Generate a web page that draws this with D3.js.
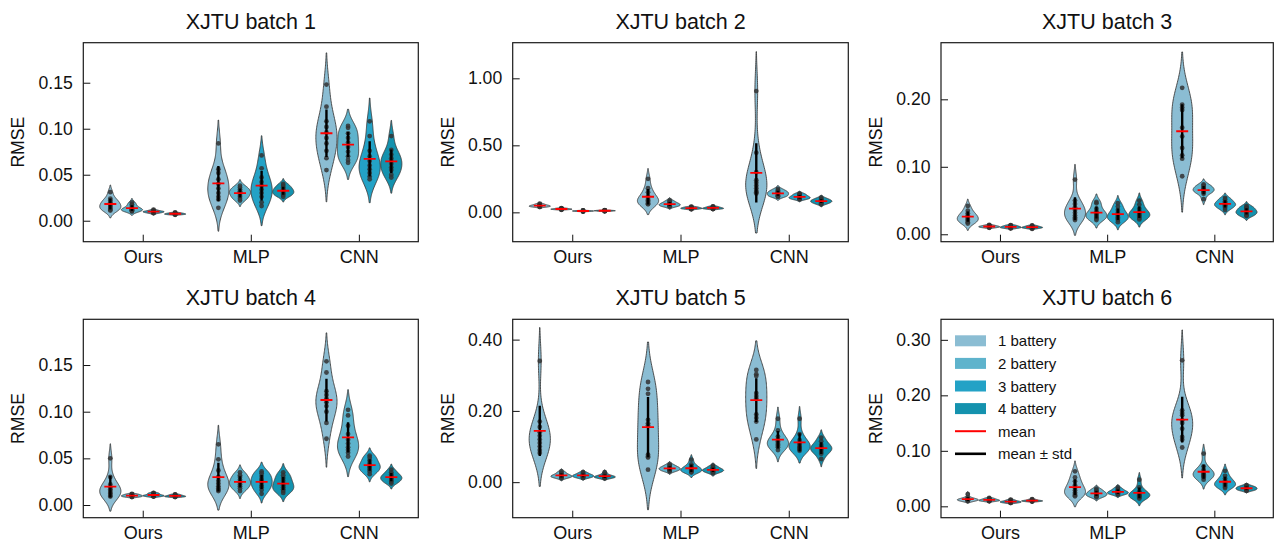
<!DOCTYPE html>
<html>
<head>
<meta charset="utf-8">
<script src="https://cdn.jsdelivr.net/npm/d3@7"></script>
<style>
  body { margin: 0; background: #fff; }
  svg { display: block; font-family: "Liberation Sans", Arial, sans-serif; }
</style>
</head>
<body>
<div id="chart"></div>
<script>
// titles, categories and tick labels
var titles = ["XJTU batch 1", "XJTU batch 2", "XJTU batch 3", "XJTU batch 4", "XJTU batch 5", "XJTU batch 6"];
var models = ["Ours", "MLP", "CNN"];
var batteryLabels = ["1 battery", "2 battery", "3 battery", "4 battery"];
var yTickValues = [
  [0, 0.05, 0.10, 0.15],
  [0, 0.50, 1.00],
  [0, 0.10, 0.20],
  [0, 0.05, 0.10, 0.15],
  [0, 0.20, 0.40],
  [0, 0.10, 0.20, 0.30]
];
var yLimits = [
  [-0.0228, 0.1935],
  [-0.219, 1.2657],
  [-0.011, 0.2839],
  [-0.0136, 0.199],
  [-0.0997, 0.457],
  [-0.0205, 0.337]
];

// RMSE of each run: [model][battery count][run]
var rmseBatch1 = [
  [[0.031, 0.024, 0.022, 0.020, 0.018, 0.016, 0.015, 0.013, 0.012, 0.011],
   [0.020, 0.018, 0.016, 0.014, 0.013, 0.012, 0.012, 0.011, 0.010, 0.011],
   [0.012, 0.011, 0.0105, 0.010, 0.0095, 0.009, 0.0085, 0.008, 0.010, 0.0095],
   [0.009, 0.0085, 0.008, 0.008, 0.0075, 0.0075, 0.007, 0.007, 0.0065, 0.0068]],
  [[0.084, 0.056, 0.052, 0.045, 0.040, 0.035, 0.030, 0.026, 0.023, 0.014],
   [0.038, 0.036, 0.034, 0.032, 0.031, 0.030, 0.028, 0.026, 0.024, 0.022],
   [0.071, 0.057, 0.047, 0.042, 0.038, 0.034, 0.030, 0.026, 0.020, 0.016],
   [0.040, 0.038, 0.036, 0.034, 0.033, 0.032, 0.030, 0.029, 0.028, 0.026]],
  [[0.148, 0.124, 0.108, 0.102, 0.096, 0.090, 0.084, 0.076, 0.068, 0.055],
   [0.103, 0.101, 0.095, 0.090, 0.085, 0.080, 0.075, 0.070, 0.066, 0.063],
   [0.108, 0.092, 0.076, 0.070, 0.065, 0.060, 0.056, 0.052, 0.048, 0.045],
   [0.092, 0.077, 0.072, 0.068, 0.065, 0.062, 0.058, 0.055, 0.050, 0.047]]
];
var rmseBatch2 = [
  [[0.065, 0.060, 0.055, 0.052, 0.050, 0.048, 0.045, 0.042, 0.040, 0.043],
   [0.032, 0.030, 0.028, 0.026, 0.025, 0.024, 0.023, 0.022, 0.021, 0.019],
   [0.014, 0.013, 0.012, 0.011, 0.010, 0.010, 0.009, 0.008, 0.007, 0.006],
   [0.016, 0.015, 0.014, 0.013, 0.012, 0.012, 0.011, 0.010, 0.009, 0.008]],
  [[0.25, 0.18, 0.15, 0.12, 0.10, 0.09, 0.08, 0.07, 0.065, 0.06],
   [0.09, 0.08, 0.072, 0.066, 0.062, 0.058, 0.054, 0.05, 0.045, 0.043],
   [0.042, 0.04, 0.037, 0.034, 0.032, 0.031, 0.029, 0.027, 0.025, 0.023],
   [0.045, 0.042, 0.038, 0.035, 0.033, 0.031, 0.029, 0.027, 0.025, 0.025]],
  [[0.905, 0.445, 0.30, 0.24, 0.22, 0.20, 0.18, 0.16, 0.15, 0.14],
   [0.175, 0.165, 0.155, 0.15, 0.145, 0.14, 0.13, 0.125, 0.12, 0.115],
   [0.14, 0.135, 0.128, 0.12, 0.116, 0.112, 0.108, 0.104, 0.1, 0.097],
   [0.11, 0.10, 0.095, 0.09, 0.085, 0.082, 0.078, 0.072, 0.068, 0.06]]
];
var rmseBatch3 = [
  [[0.042, 0.035, 0.031, 0.028, 0.026, 0.024, 0.022, 0.020, 0.018, 0.016],
   [0.014, 0.013, 0.0125, 0.012, 0.0115, 0.011, 0.011, 0.0105, 0.010, 0.0095],
   [0.0135, 0.013, 0.012, 0.0115, 0.011, 0.0105, 0.010, 0.0095, 0.0095, 0.0085],
   [0.013, 0.0125, 0.0115, 0.011, 0.0105, 0.010, 0.0098, 0.0095, 0.009, 0.008]],
  [[0.081, 0.050, 0.045, 0.040, 0.036, 0.032, 0.028, 0.025, 0.023, 0.021],
   [0.048, 0.046, 0.038, 0.034, 0.031, 0.029, 0.027, 0.025, 0.023, 0.021],
   [0.046, 0.041, 0.036, 0.032, 0.029, 0.027, 0.025, 0.023, 0.021, 0.018],
   [0.050, 0.044, 0.038, 0.034, 0.032, 0.030, 0.028, 0.026, 0.024, 0.022]],
  [[0.217, 0.192, 0.188, 0.184, 0.158, 0.145, 0.128, 0.117, 0.112, 0.086],
   [0.074, 0.072, 0.070, 0.068, 0.066, 0.065, 0.064, 0.062, 0.060, 0.052],
   [0.054, 0.052, 0.049, 0.047, 0.045, 0.044, 0.043, 0.041, 0.039, 0.036],
   [0.042, 0.040, 0.038, 0.036, 0.034, 0.033, 0.032, 0.030, 0.028, 0.027]]
];
var rmseBatch4 = [
  [[0.050, 0.030, 0.022, 0.019, 0.017, 0.015, 0.013, 0.012, 0.010, 0.009],
   [0.012, 0.0115, 0.011, 0.0105, 0.010, 0.010, 0.0095, 0.009, 0.0088, 0.0085],
   [0.013, 0.0125, 0.012, 0.011, 0.0105, 0.010, 0.010, 0.0095, 0.009, 0.0095],
   [0.0115, 0.011, 0.0105, 0.010, 0.0097, 0.0095, 0.009, 0.009, 0.0088, 0.0085]],
  [[0.065, 0.049, 0.037, 0.030, 0.026, 0.023, 0.020, 0.018, 0.016, 0.015],
   [0.035, 0.032, 0.030, 0.027, 0.025, 0.024, 0.022, 0.020, 0.018, 0.015],
   [0.036, 0.034, 0.031, 0.028, 0.026, 0.024, 0.021, 0.019, 0.016, 0.012],
   [0.035, 0.032, 0.029, 0.026, 0.023, 0.021, 0.019, 0.017, 0.015, 0.013]],
  [[0.154, 0.142, 0.122, 0.118, 0.114, 0.110, 0.106, 0.100, 0.088, 0.071],
   [0.102, 0.096, 0.085, 0.076, 0.070, 0.066, 0.062, 0.059, 0.056, 0.052],
   [0.053, 0.051, 0.048, 0.045, 0.043, 0.041, 0.040, 0.038, 0.036, 0.033],
   [0.038, 0.035, 0.033, 0.031, 0.030, 0.029, 0.028, 0.026, 0.025, 0.023]]
];
var rmseBatch5 = [
  [[0.340, 0.170, 0.155, 0.140, 0.130, 0.120, 0.110, 0.100, 0.090, 0.082],
   [0.030, 0.026, 0.023, 0.020, 0.018, 0.017, 0.016, 0.015, 0.013, 0.011],
   [0.028, 0.025, 0.022, 0.020, 0.019, 0.018, 0.016, 0.015, 0.013, 0.012],
   [0.028, 0.022, 0.019, 0.017, 0.016, 0.015, 0.014, 0.013, 0.012, 0.011]],
  [[0.281, 0.262, 0.248, 0.175, 0.165, 0.160, 0.077, 0.072, 0.069, 0.035],
   [0.050, 0.046, 0.043, 0.041, 0.039, 0.038, 0.036, 0.034, 0.032, 0.030],
   [0.063, 0.050, 0.045, 0.040, 0.037, 0.035, 0.033, 0.031, 0.029, 0.027],
   [0.046, 0.042, 0.039, 0.036, 0.035, 0.033, 0.032, 0.030, 0.028, 0.025]],
  [[0.315, 0.303, 0.298, 0.250, 0.242, 0.235, 0.190, 0.180, 0.170, 0.120],
   [0.178, 0.145, 0.128, 0.120, 0.115, 0.110, 0.106, 0.102, 0.098, 0.090],
   [0.178, 0.135, 0.118, 0.110, 0.105, 0.100, 0.097, 0.094, 0.092, 0.088],
   [0.125, 0.115, 0.105, 0.100, 0.097, 0.094, 0.090, 0.085, 0.080, 0.065]]
];
var rmseBatch6 = [
  [[0.022, 0.016, 0.014, 0.013, 0.012, 0.012, 0.011, 0.011, 0.010, 0.010],
   [0.015, 0.014, 0.013, 0.012, 0.0115, 0.011, 0.0105, 0.010, 0.0095, 0.009],
   [0.012, 0.011, 0.0095, 0.009, 0.0085, 0.008, 0.0075, 0.007, 0.0065, 0.006],
   [0.013, 0.012, 0.011, 0.0105, 0.010, 0.010, 0.0095, 0.009, 0.009, 0.0085]],
  [[0.063, 0.052, 0.045, 0.038, 0.033, 0.029, 0.025, 0.022, 0.020, 0.018],
   [0.032, 0.029, 0.027, 0.025, 0.023, 0.022, 0.021, 0.019, 0.018, 0.016],
   [0.034, 0.031, 0.029, 0.027, 0.026, 0.025, 0.024, 0.023, 0.022, 0.021],
   [0.048, 0.034, 0.027, 0.024, 0.022, 0.020, 0.019, 0.018, 0.016, 0.014]],
  [[0.263, 0.173, 0.168, 0.164, 0.155, 0.150, 0.140, 0.125, 0.120, 0.106],
   [0.095, 0.072, 0.066, 0.062, 0.060, 0.058, 0.056, 0.054, 0.052, 0.048],
   [0.064, 0.055, 0.050, 0.046, 0.043, 0.041, 0.039, 0.037, 0.035, 0.033],
   [0.038, 0.036, 0.035, 0.034, 0.033, 0.032, 0.031, 0.030, 0.029, 0.028]]
];
var allBatches = [rmseBatch1, rmseBatch2, rmseBatch3, rmseBatch4, rmseBatch5, rmseBatch6];

var batteryColours = ["#8bbdd3", "#5eb3cc", "#23a2c6", "#1492ae"];

var width = 1282, height = 550;
var colLeft = [83.3, 512.7, 941], colWidth = [335, 335.6, 332.3];
var rowTop = [42.7, 319.3], rowHeight = [199, 198.4];
var font = "\"Liberation Sans\", Arial, sans-serif";

var svg = d3.select("#chart").append("svg")
  .attr("width", width)
  .attr("height", height);

// seaborn-ish KDE: scott bandwidth, cut = 2 bandwidths
function violinShape(vals){
  var n = vals.length;
  var sd = d3.deviation(vals);
  var bw = Math.pow(n, -0.2) * sd;
  var lo = d3.min(vals) - 2 * bw, hi = d3.max(vals) + 2 * bw;
  var pts = [];
  for (var i = 0; i <= 100; i++){
    var v = lo + (hi - lo) * i / 100;
    var dens = d3.sum(vals, function(x){ var z = (v - x) / bw; return Math.exp(-0.5 * z * z); });
    pts.push({v: v, d: dens});
  }
  var maxD = d3.max(pts, function(p){ return p.d; });
  pts.forEach(function(p){ p.d = p.d / maxD; });
  return pts;
}

allBatches.forEach(function(batch, bi){
  var col = bi % 3, row = Math.floor(bi / 3);
  var left = colLeft[col], top = rowTop[row];
  var w = colWidth[col], h = rowHeight[row];

  var x = d3.scaleLinear().domain([-0.55, 2.55]).range([left, left + w]);
  var y = d3.scaleLinear().domain(yLimits[bi]).range([top + h, top]);
  var halfW = x(0.098) - x(0);

  var g = svg.append("g");

  g.append("clipPath").attr("id", "clip" + bi)
    .append("rect").attr("x", left).attr("y", top).attr("width", w).attr("height", h);

  var plot = g.append("g").attr("clip-path", "url(#clip" + bi + ")");

  batch.forEach(function(modelRuns, mi){
    modelRuns.forEach(function(vals, k){
      var cx = x(mi + (k - 1.5) * 0.2);
      var shape = violinShape(vals);
      var area = d3.area()
        .y(function(p){ return y(p.v); })
        .x0(function(p){ return cx - p.d * halfW; })
        .x1(function(p){ return cx + p.d * halfW; });
      plot.append("path")
        .attr("d", area(shape))
        .attr("fill", batteryColours[k])
        .attr("stroke", "#3d3d3d")
        .attr("stroke-width", 0.9);

      plot.selectAll(null)
        .data(vals)
        .enter()
        .append("circle")
        .attr("cx", cx)
        .attr("cy", function(d){ return y(d); })
        .attr("r", 2.4)
        .attr("fill", "#333")
        .attr("fill-opacity", 0.85);

      var mean = d3.mean(vals);
      var sd = Math.sqrt(d3.mean(vals, function(d){ return (d - mean) * (d - mean); }));
      plot.append("line")
        .attr("x1", cx).attr("x2", cx)
        .attr("y1", y(mean - sd)).attr("y2", y(mean + sd))
        .attr("stroke", "#000").attr("stroke-width", 2.4);
      plot.append("line")
        .attr("x1", cx - 6).attr("x2", cx + 6)
        .attr("y1", y(mean)).attr("y2", y(mean))
        .attr("stroke", "#ff0000").attr("stroke-width", 1.8);
    });
  });

  // axes, ticks pointing inward
  var yAxis = d3.axisLeft(y)
    .tickValues(yTickValues[bi])
    .tickFormat(d3.format(".2f"))
    .tickSizeInner(-7).tickSizeOuter(0).tickPadding(10.5);
  var ya = g.append("g").attr("transform", "translate(" + left + ",0)").call(yAxis);
  ya.select(".domain").remove();
  ya.selectAll("text").attr("font-size", 17.6).attr("font-family", font).attr("fill", "#111");
  ya.selectAll("line").attr("stroke", "#111");

  var xAxis = d3.axisBottom(x)
    .tickValues([0, 1, 2])
    .tickFormat(function(d){ return models[d]; })
    .tickSizeInner(-7).tickSizeOuter(0).tickPadding(9);
  var xa = g.append("g").attr("transform", "translate(0," + (top + h) + ")").call(xAxis);
  xa.select(".domain").remove();
  xa.selectAll("text").attr("font-size", 18).attr("font-family", font).attr("fill", "#111");
  xa.selectAll("line").attr("stroke", "#111");

  g.append("rect")
    .attr("x", left).attr("y", top).attr("width", w).attr("height", h)
    .attr("fill", "none").attr("stroke", "#1a1a1a").attr("stroke-width", 1.2);

  g.append("text")
    .attr("x", left + w / 2).attr("y", top - 14)
    .attr("text-anchor", "middle")
    .attr("font-size", 21.5).attr("fill", "#111")
    .text(titles[bi]);

  g.append("text")
    .attr("transform", "translate(" + (left - 65) + "," + (top + h / 2) + ") rotate(-90)")
    .attr("text-anchor", "middle")
    .attr("dominant-baseline", "central")
    .attr("font-size", 17.6).attr("fill", "#111")
    .text("RMSE");

  // legend lives in the last panel
  if (bi === 5){
    var lx = left + 14, ly = top + 21.5, step = 22.6;
    var leg = g.append("g");
    batteryLabels.forEach(function(lab, k){
      leg.append("rect")
        .attr("x", lx).attr("y", ly + k * step - 5.5)
        .attr("width", 31).attr("height", 11)
        .attr("fill", batteryColours[k]);
      leg.append("text")
        .attr("x", lx + 43).attr("y", ly + k * step)
        .attr("dominant-baseline", "central")
        .attr("font-size", 15).attr("fill", "#111")
        .text(lab);
    });
    var lineItems = [{label: "mean", colour: "#ff0000", sw: 2}, {label: "mean \u00b1 std", colour: "#000", sw: 2.6}];
    lineItems.forEach(function(it, j){
      var yy = ly + (4 + j) * step;
      leg.append("line")
        .attr("x1", lx).attr("x2", lx + 31)
        .attr("y1", yy).attr("y2", yy)
        .attr("stroke", it.colour).attr("stroke-width", it.sw);
      leg.append("text")
        .attr("x", lx + 43).attr("y", yy)
        .attr("dominant-baseline", "central")
        .attr("font-size", 15).attr("fill", "#111")
        .text(it.label);
    });
  }
});
</script>
</body>
</html>
